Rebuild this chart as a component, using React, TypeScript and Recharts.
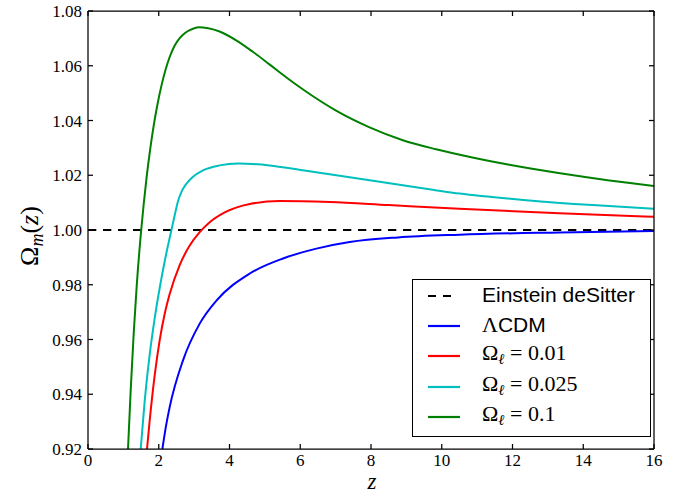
import { LineChart, Line, XAxis, YAxis } from "recharts";

const SERIF = "'Liberation Serif', 'DejaVu Serif', serif";
const SANS = "'Liberation Sans', Arial, sans-serif";

// axis ticks
const X_TICKS = [0, 2, 4, 6, 8, 10, 12, 14, 16];
const Y_TICKS = [0.92, 0.94, 0.96, 0.98, 1.0, 1.02, 1.04, 1.06, 1.08];

// Einstein deSitter (flat at 1)
const edsZ = [0, 16];
const edsOmega = [1, 1];

// LCDM
const lcdmZ = [2.103, 2.196, 2.309, 2.686, 3.158, 3.63, 4.572, 5.512, 6.457, 7.398, 8.763, 10.507, 13.33, 16];
const lcdmOmega = [0.92, 0.9277, 0.9353, 0.9524, 0.9658, 0.9742, 0.9841, 0.9896, 0.9932, 0.9956, 0.9973, 0.9983, 0.9991, 0.9996];

// Omega_l = 0.01
const l001Z = [1.668, 1.744, 1.885, 2.026, 2.167, 2.309, 2.592, 2.875, 3.158, 3.441, 3.865, 4.572, 5.42, 6.83, 8.5, 10.5, 13.32, 16];
const l001Omega = [0.92, 0.9304, 0.9469, 0.9597, 0.9693, 0.9766, 0.9872, 0.9943, 0.9992, 1.0028, 1.0064, 1.0095, 1.0106, 1.0102, 1.0091, 1.0078, 1.0061, 1.0048];

// Omega_l = 0.025
const l0025Z = [1.49, 1.603, 1.744, 1.885, 2.026, 2.167, 2.358, 2.451, 2.544, 2.649, 2.782, 2.96, 3.251, 3.723, 4.24, 5.136, 6.069, 7.963, 9.744, 10.507, 12.393, 14.267, 16];
const l0025Omega = [0.92, 0.9376, 0.9545, 0.9677, 0.9788, 0.9885, 1.0, 1.0054, 1.0105, 1.0141, 1.0169, 1.0194, 1.0218, 1.0236, 1.0243, 1.0236, 1.0218, 1.0182, 1.0147, 1.0133, 1.0109, 1.0091, 1.0078];

// Omega_l = 0.1
const l01Z = [1.131, 1.207, 1.292, 1.377, 1.504, 1.575, 1.659, 1.744, 1.857, 1.97, 2.083, 2.196, 2.309, 2.451, 2.592, 2.734, 2.875, 3.129, 3.4, 3.72, 4.2, 4.66, 5.13, 5.6, 6.07, 7.0, 7.96, 8.9, 9.84, 10.9, 11.91, 13.3, 14.74, 16];
const l01Omega = [0.92, 0.9415, 0.9623, 0.9796, 1.0, 1.0095, 1.0195, 1.0282, 1.0381, 1.0463, 1.0531, 1.0587, 1.0632, 1.0674, 1.0701, 1.0719, 1.073, 1.0741, 1.0737, 1.0725, 1.0692, 1.0651, 1.0605, 1.0558, 1.0514, 1.0437, 1.0375, 1.0328, 1.0295, 1.0264, 1.0238, 1.0208, 1.0181, 1.0161];

const toRows = (zs: number[], vs: number[]) => zs.map((z, i) => ({ z, omega: vs[i] }));

type Series = {
  key: string;
  color: string;
  dashed?: boolean;
  data: { z: number; omega: number }[];
};

const SERIES: Series[] = [
  { key: "eds", color: "#000000", dashed: true, data: toRows(edsZ, edsOmega) },
  { key: "lcdm", color: "#0000ff", data: toRows(lcdmZ, lcdmOmega) },
  { key: "l001", color: "#ff0000", data: toRows(l001Z, l001Omega) },
  { key: "l0025", color: "#00bfbf", data: toRows(l0025Z, l0025Omega) },
  { key: "l01", color: "#008000", data: toRows(l01Z, l01Omega) },
];

const TICK_LEN = 5;
const FRAME = { stroke: "#000", strokeWidth: 1.25 };

// eslint-disable-next-line @typescript-eslint/no-explicit-any
function BottomTick({ x, y, payload }: any) {
  return (
    <g>
      <line x1={x} y1={y} x2={x} y2={y - TICK_LEN} {...FRAME} />
      <text x={x} y={y + 17} textAnchor="middle" fontFamily={SERIF} fontSize={17} fill="#000">
        {payload.value}
      </text>
    </g>
  );
}

// eslint-disable-next-line @typescript-eslint/no-explicit-any
function TopTick({ x, y }: any) {
  return <line x1={x} y1={y} x2={x} y2={y + TICK_LEN} {...FRAME} />;
}

// eslint-disable-next-line @typescript-eslint/no-explicit-any
function LeftTick({ x, y, payload }: any) {
  return (
    <g>
      <line x1={x} y1={y} x2={x + TICK_LEN} y2={y} {...FRAME} />
      <text x={x - 6} y={y + 6} textAnchor="end" fontFamily={SERIF} fontSize={17} fill="#000">
        {Number(payload.value).toFixed(2)}
      </text>
    </g>
  );
}

// eslint-disable-next-line @typescript-eslint/no-explicit-any
function RightTick({ x, y }: any) {
  return <line x1={x} y1={y} x2={x - TICK_LEN} y2={y} {...FRAME} />;
}

function MathOmegaL({ value }: { value: string }) {
  return (
    <span style={{ fontFamily: SERIF, fontSize: 22 }}>
      Ω<sub style={{ fontSize: 15, fontStyle: "italic", verticalAlign: -4 }}>ℓ</sub> = {value}
    </span>
  );
}

const LEGEND_ROWS = [
  { key: "eds", label: <span style={{ fontFamily: SANS, fontSize: 21 }}>Einstein deSitter</span> },
  {
    key: "lcdm",
    label: (
      <span style={{ fontSize: 21 }}>
        <span style={{ fontFamily: SERIF, fontSize: 22 }}>Λ</span>
        <span style={{ fontFamily: SANS }}>CDM</span>
      </span>
    ),
  },
  { key: "l001", label: <MathOmegaL value="0.01" /> },
  { key: "l0025", label: <MathOmegaL value="0.025" /> },
  { key: "l01", label: <MathOmegaL value="0.1" /> },
];

function LegendBox() {
  return (
    <div
      style={{
        position: "absolute",
        left: 412,
        top: 279,
        width: 239,
        height: 158,
        border: "1.25px solid #000",
        background: "#fff",
        boxSizing: "border-box",
      }}
    >
      {LEGEND_ROWS.map((row, i) => {
        const s = SERIES.find((d) => d.key === row.key)!;
        return (
          <div
            key={row.key}
            style={{
              position: "absolute",
              left: 0,
              top: 1 + i * 30.2,
              height: 30,
              width: "100%",
              display: "flex",
              alignItems: "center",
            }}
          >
            <svg width={34} height={30} style={{ marginLeft: 14, flexShrink: 0 }}>
              <line
                x1={1}
                y1={15}
                x2={s.dashed ? 24 : 33}
                y2={15}
                stroke={s.color}
                strokeWidth={2.2}
                strokeDasharray={s.dashed ? "8 7" : undefined}
              />
            </svg>
            <div style={{ marginLeft: 21, lineHeight: "30px", whiteSpace: "nowrap", color: "#000" }}>{row.label}</div>
          </div>
        );
      })}
    </div>
  );
}

export default function App() {
  return (
    <div style={{ position: "absolute", left: 0, top: 0, width: 689, height: 493, background: "#fff" }}>
      <LineChart width={689} height={493} margin={{ top: 0, right: 0, bottom: 0, left: 0 }}>
        <XAxis
          xAxisId="b"
          dataKey="z"
          type="number"
          domain={[0, 16]}
          ticks={X_TICKS}
          interval={0}
          allowDataOverflow
          height={44}
          tickSize={0}
          tickMargin={0}
          tickLine={false}
          axisLine={FRAME}
          tick={BottomTick}
          label={{
            content: () => (
              <text x={372} y={489} textAnchor="middle" fontFamily={SERIF} fontStyle="italic" fontSize={23} fill="#000">
                z
              </text>
            ),
          }}
        />
        <XAxis
          xAxisId="t"
          orientation="top"
          dataKey="z"
          type="number"
          domain={[0, 16]}
          ticks={X_TICKS}
          interval={0}
          allowDataOverflow
          height={11}
          tickSize={0}
          tickMargin={0}
          tickLine={false}
          axisLine={FRAME}
          tick={TopTick}
        />
        <YAxis
          yAxisId="l"
          type="number"
          domain={[0.92, 1.08]}
          ticks={Y_TICKS}
          interval={0}
          allowDataOverflow
          width={88}
          tickSize={0}
          tickMargin={0}
          tickLine={false}
          axisLine={FRAME}
          tick={LeftTick}
          label={{
            content: () => (
              <text
                transform="translate(38 236) rotate(-90)"
                textAnchor="middle"
                fontFamily={SERIF}
                fontSize={26}
                fill="#000"
              >
                Ω
                <tspan fontStyle="italic" fontSize={18} dy={5}>
                  m
                </tspan>
                <tspan dy={-5}>(</tspan>
                <tspan fontStyle="italic">z</tspan>
                <tspan>)</tspan>
              </text>
            ),
          }}
        />
        <YAxis
          yAxisId="r"
          orientation="right"
          type="number"
          domain={[0.92, 1.08]}
          ticks={Y_TICKS}
          interval={0}
          allowDataOverflow
          width={35}
          tickSize={0}
          tickMargin={0}
          tickLine={false}
          axisLine={FRAME}
          tick={RightTick}
        />
        {SERIES.map((s) => (
          <Line
            key={s.key}
            xAxisId="b"
            yAxisId="l"
            data={s.data}
            dataKey="omega"
            type="monotone"
            stroke={s.color}
            strokeWidth={s.dashed ? 2.2 : 2}
            strokeDasharray={s.dashed ? "8.3 6.7" : undefined}
            dot={false}
            activeDot={false}
            isAnimationActive={false}
          />
        ))}
      </LineChart>
      <LegendBox />
    </div>
  );
}
